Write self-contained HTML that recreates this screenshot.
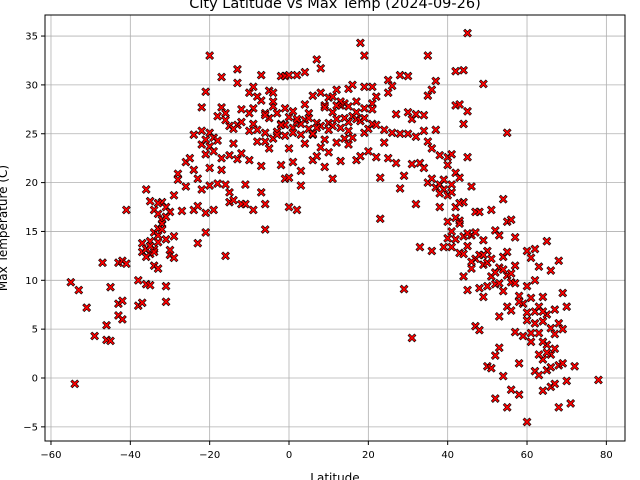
<!DOCTYPE html>
<html><head><meta charset="utf-8"><style>
html,body{margin:0;padding:0;background:#fff;}
svg{display:block;font-family:"DejaVu Sans","Liberation Sans",sans-serif;}
</style></head><body>
<svg id="chart" width="640" height="480" viewBox="0 0 640 480">
<text x="335" y="8" font-size="14.5" text-anchor="middle">City Latitude vs Max Temp (2024-09-26)</text>
<g id="grid"></g>
<g id="pts"></g>
<rect x="45" y="15" width="580" height="426" fill="none" stroke="#000" stroke-width="1"/>
<g id="axes"></g>
<text x="335" y="482" font-size="12" text-anchor="middle">Latitude</text>
<text transform="translate(7,228) rotate(-90)" font-size="12" text-anchor="middle">Max Temperature (C)</text>
</svg>
<script>
const xTicks=[-60,-40,-20,0,20,40,60,80];
const yTicks=[-5,0,5,10,15,20,25,30,35];
const lats=[-55,-54,-53,-51,-49,-47,-46,-46,-45,-45,-43,-43,-42,-42,-43,-42,-41,-41,-38,-38,-37,-37,-37,-36,-36,-35,-35,-35,-34,-34,-34,-34,-33,-33,-33,-33,-32,-32,-32,-31,-31,-31,-31,-30,-30,-30,-29,-29,-29,-28,-28,-27,-26,-26,-25,-24,-24,-24,-23,-23,-23,-22,-22,-22,-21,-21,-21,-21,-20,-20,-20,-20,-19,-19,-18,-18,-18,-17,-17,-17,-17,-16,-16,-16,-15,-15,-15,-14,-14,-13,-13,-13,-13,-12,-12,-12,-11,-11,-10,-10,-10,-9,-9,-9,-9,-8,-8,-7,-7,-7,-7,-6,-6,-6,-6,-6,-5,-5,-5,-4,-4,-4,-3,-3,-2,-2,-2,-1,-1,-1,-1,0,0,0,0,0,1,1,1,2,2,2,3,3,3,4,4,4,4,5,5,6,6,6,7,7,7,8,8,8,8,9,9,9,10,10,10,11,11,11,12,12,12,13,13,13,14,14,15,15,15,15,16,16,16,17,17,17,18,18,18,19,19,19,19,20,20,21,21,21,22,22,22,23,23,24,24,25,25,25,26,26,27,27,28,28,28,29,29,30,30,30,31,31,31,32,32,32,33,33,34,34,34,35,35,35,35,36,36,36,37,37,37,38,38,38,39,39,40,40,40,41,41,41,41,42,42,42,42,42,43,43,43,43,44,44,44,44,44,45,45,45,45,45,46,46,46,47,47,47,48,48,48,48,49,49,49,49,50,50,50,51,51,51,52,52,52,52,53,53,53,53,54,54,54,54,55,55,55,55,55,56,56,56,56,57,57,57,58,58,58,59,59,60,60,60,60,61,61,61,62,62,62,62,63,63,63,63,64,64,64,64,65,65,65,65,66,66,66,66,67,67,67,68,68,68,68,69,69,69,70,70,71,72,78,
-36,-35,-34,-33,-32,-33,-36,-35,-31,-22,-21,-19,-20,-16,-14,-12,-8,-6,-4,-3,-1,1,3,5,7,9,11,13,15,17,19,21,14,12,10,6,2,-2,-10,-15,36,38,40,42,43,44,41,39,46,47,50,51,53,54,52,56,49,61,63,64,65,66,62,67,64,60,58,55,57,45,43,40];
const temps=[9.8,-0.6,9,7.2,4.3,11.8,5.4,3.9,3.8,9.3,7.6,11.8,12,7.9,6.4,6,11.7,17.2,7.4,10,7.7,12.9,13.8,9.6,19.3,18.1,12.7,9.5,14.9,13.2,11.5,17.2,15.3,13.9,11.2,16.8,18,16.2,15.8,9.4,7.8,17.5,14.2,17,12.6,13.1,18.7,14.5,12.3,20.9,20.3,17.1,22.1,19.6,22.5,21.3,17.2,24.9,20.4,13.8,17.6,27.7,23.9,19.3,29.3,22.9,14.9,16.9,33,25.1,23.7,21.5,17.2,24.6,26.8,24.3,19.9,30.8,27.7,22.5,21.3,12.5,19.8,27.1,25.8,18,19,24,18.2,31.6,30.2,25.9,22.4,27.5,17.8,23,19.8,17.8,29.2,25.3,22.3,29.8,27.6,26,17.2,25.4,24.2,31,28.4,19,21.7,27.1,25.1,24.2,15.2,17.8,29.4,26.6,23.5,29.2,27.8,24.5,27.1,25.2,30.9,26,21.8,30.9,27.6,24.8,20.4,31,26.7,23.5,20.5,17.5,25.6,27.3,22.1,31,26.2,17.2,24.9,21.2,19.7,31.3,28,26.4,24,25.5,27.1,22.3,24.9,28.9,32.6,26.1,22.7,31.7,29.2,25.8,23.6,27.9,24.4,21.6,28.7,26.1,23.1,28.8,25.8,20.4,26.5,24.1,29.5,27.9,25.6,22.2,28.1,24.5,29.6,27.8,25.3,23.9,30,26.8,24.6,28.3,26.5,22.3,34.3,26.3,22.7,33,29.8,25.1,27.6,25.5,23.2,29.8,28.1,26,28.8,25.9,22.6,20.5,16.3,25.4,24.1,30.5,29.2,22.5,29.9,25.1,27,22,31,25,19.4,9.1,20.7,30.9,27.2,25,26.5,4.1,21.9,27,24.7,17.8,22,13.4,26.9,25.3,21.5,33,28.9,24.2,20,29.5,23.5,13,30.4,25.4,19.5,19.8,17.5,22.8,19.3,13.4,22.6,18.7,16,22.9,19,13.4,15,31.4,27.9,21,17.5,14.2,28,20.5,16.1,12.8,31.5,26,18,14.5,10.4,35.3,27.3,22.6,13.5,9,19.6,14.6,11.2,17,12.2,5.3,17,12.6,9.2,4.9,30.1,14.1,11.6,8.3,13,9.4,1.2,17.2,10.4,1,15.1,9.6,2.3,-2.1,14.6,11.3,6.3,3.1,18.3,12.4,8.9,0.2,25.1,16,10.5,7.3,-3,16.2,10.7,6.9,-1.2,14.4,11.5,4.7,8.4,1.5,-1.7,7.6,4.3,13,9.4,5.9,-4.5,12.3,8.2,3.7,13.2,10,6.8,0.7,11.4,7.3,4.6,0.3,8.3,5.8,1.9,-1.3,14,6.5,3.4,0.8,11,5.1,2.4,-0.9,7,3,-0.6,12,5.6,1.3,-3,8.7,5,1.5,7.3,-0.3,-2.6,1.2,-0.2,
13.2,14,12.9,14.6,15.2,17.9,12.4,13.5,16.5,25.3,24.4,23.2,19.7,26.4,25.5,26.2,28.8,26.9,28.3,24.9,25.9,25.1,26,26.6,25.6,27.7,27.2,28.3,26.2,27.2,26.6,27.5,26.6,27.9,25.4,25,26.5,25.9,27.1,22.8,20.4,18.9,14.3,16.4,15.8,12.7,19.8,20.3,11.9,14.9,11.8,12.2,9.7,11.1,10.8,9.8,12.6,4.6,2.4,6.8,2.6,1.1,5.6,4.5,3.7,6.7,7.8,12.9,9.7,14.8,17.9,21.8];
const NS='http://www.w3.org/2000/svg';
const X0=45,X1=625,Y0=15,Y1=441;
function xs(v){return 289+v*3.967;}
function ys(v){return 378-v*9.77;}
const grid=document.getElementById('grid'),axes=document.getElementById('axes'),pts=document.getElementById('pts');
xTicks.forEach(t=>{const x=xs(t);
 const l=document.createElementNS(NS,'line');
 
 
 l.setAttribute('x1',x);l.setAttribute('x2',x);l.setAttribute('y1',Y0);l.setAttribute('y2',Y1);l.setAttribute('stroke','#b0b0b0');l.setAttribute('stroke-width','0.8');grid.appendChild(l);
 const k=document.createElementNS(NS,'line');
 
 
 k.setAttribute('x1',x);k.setAttribute('x2',x);k.setAttribute('y1',Y1);k.setAttribute('y2',Y1+4);k.setAttribute('stroke','#000');axes.appendChild(k);
 const tx=document.createElementNS(NS,'text');
 
 
 tx.setAttribute('x',x);tx.setAttribute('y',Y1+17);tx.setAttribute('font-size','10');tx.setAttribute('text-anchor','middle');tx.textContent=(t<0?'\u2212'+(-t):t);axes.appendChild(tx);});
yTicks.forEach(t=>{const y=ys(t);
 const l=document.createElementNS(NS,'line');
 
 
 l.setAttribute('x1',X0);l.setAttribute('x2',X1);l.setAttribute('y1',y);l.setAttribute('y2',y);l.setAttribute('stroke','#b0b0b0');l.setAttribute('stroke-width','0.8');grid.appendChild(l);
 const k=document.createElementNS(NS,'line');
 
 
 k.setAttribute('x1',X0-4);k.setAttribute('x2',X0);k.setAttribute('y1',y);k.setAttribute('y2',y);k.setAttribute('stroke','#000');axes.appendChild(k);
 const tx=document.createElementNS(NS,'text');
 
 
 tx.setAttribute('x',X0-7);tx.setAttribute('y',y+3.5);tx.setAttribute('font-size','10');tx.setAttribute('text-anchor','end');tx.textContent=(t<0?'\u2212'+(-t):t);axes.appendChild(tx);});
const shape='M-4,-2.4 L-2.4,-4 L0,-1.6 L2.4,-4 L4,-2.4 L1.6,0 L4,2.4 L2.4,4 L0,1.6 L-2.4,4 L-4,2.4 L-1.6,0 Z';
lats.forEach((la,i)=>{
 const p=document.createElementNS(NS,'path');
 
 
 p.setAttribute('d',shape);p.setAttribute('transform','translate('+xs(la)+','+ys(temps[i])+')');
 p.setAttribute('fill','#ff0000');p.setAttribute('stroke','#000');p.setAttribute('stroke-width','0.6');pts.appendChild(p);});
</script>
</body></html>
